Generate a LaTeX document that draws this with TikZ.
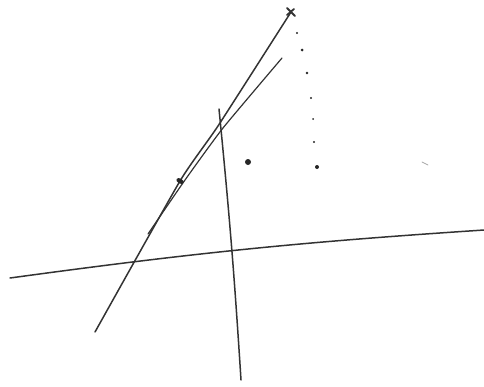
\documentclass[tikz,border=0pt]{standalone}
\usepackage{tikz}
\usetikzlibrary{calc}

\begin{document}
\begin{tikzpicture}[
                x=1pt, y=-1pt, % 像素坐标，y 向下
                line cap=round,
                stroke/.style={draw=black!80, line width=1.5pt},
                pt/.style={fill=black!85},
            ]
            \useasboundingbox (0,0) rectangle (484,386);
            % 横线与竖线
            \coordinate (H1) at (10,278);
            \coordinate (H2) at (484,230);
            \coordinate (V1) at (219,109);
            \coordinate (V2) at (241,380);
            \draw[stroke] (H1) to[bend left=2] (H2);
            \draw[stroke] (V1) to[bend left=1] (V2);

            % 两条斜线
            \coordinate (A) at (95,332);
            \coordinate (B) at (291,12);
            \coordinate (C) at (148,234);
            \coordinate (D) at (282,58);
            \draw[stroke] plot[smooth, tension=0.3] coordinates {(A) (180,181) (218,126) (B)};
            \draw[stroke, line width=1.2pt] plot[smooth, tension=0.3] coordinates {(C) (185,180) (223,128) (D)};

            % 顶端的叉
            \draw[stroke, line width=1.8pt] ($(B)+(-4,-4)$) -- ($(B)+(4,4)$);
            \draw[stroke, line width=1.8pt] ($(B)+(-4,3)$) -- ($(B)+(3,-3)$);

            % 线上的小记号
            \fill[pt, rotate around={-30:(180,181)}] (180,181) ellipse (4pt and 2.5pt);

            % 点
            \fill[pt] (248,162) circle (3pt);
            \foreach \x/\y/\r in {297/33/1.2, 302/50/1.5, 307/73/1.3, 311/98/1.2, 313/119/1, 314/142/1.1, 317/167/2}
                \fill[pt] (\x,\y) circle (\r pt);

            % 淡淡的痕迹
            \draw[black!35, line width=0.8pt] (422,162) -- (428,165);
            \end{tikzpicture}
\end{document}
